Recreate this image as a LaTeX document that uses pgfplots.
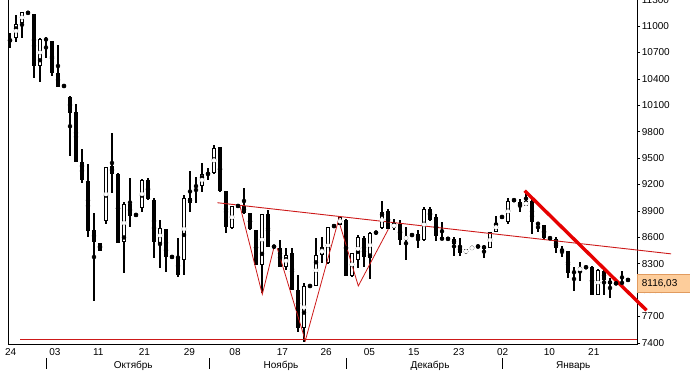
\documentclass[border=0pt]{standalone}
\usepackage{pgfplots}
\pgfplotsset{compat=1.18}
\usepackage{pgfplotstable}
\usepackage{fontspec}
\setmainfont{Liberation Sans}
\definecolor{thinred}{RGB}{205,25,25}
\definecolor{thickred}{RGB}{230,0,0}
\definecolor{peach}{RGB}{253,205,155}
\definecolor{peachedge}{RGB}{225,155,95}

\pgfplotstableread{
i O H L C
0 10842 10921 10751 10835
1 10864 11126 10819 11023
2 11035 11165 10864 11160
3 11150 11150 11150 11150
4 11137 11140 10410 10546
5 10546 10860 10364 10853
6 10850 10876 10637 10845
7 10830 10835 10433 10467
8 10467 10785 10308 10310
9 10319 10319 10319 10319
10 10194 10200 9524 10012
11 10024 10115 9456 9460
12 9456 9603 9217 9251
13 9240 9433 8604 8672
14 8684 8876 7877 8547
15 8532 8536 8444 8448
16 8786 9399 8751 9395
17 9410 9785 9104 9319
18 9319 9325 8530 8539
19 8547 9001 8195 8979
20 8979 9274 8717 8842
21 8854 8854 8854 8854
22 8933 9262 8888 9251
23 9251 9274 9024 9035
24 9024 9047 8365 8547
25 8536 8797 8252 8706
26 8695 8700 8206 8377
27 8377 8377 8377 8377
28 8377 8592 8149 8172
29 8342 9081 8172 9047
30 9047 9353 8888 8990
31 9183 9285 8990 9180
32 9183 9444 9115 9319
33 9319 9388 9251 9325
34 9331 9649 9319 9615
35 9626 9630 9115 9126
36 9126 9130 8649 8717
37 8702 8960 8700 8956
38 8956 8956 8956 8956
39 8956 9156 8870 8880
40 8872 8876 8686 8690
41 8683 8688 8280 8285
42 8285 8861 7963 8861
43 8861 8910 8494 8494
44 8494 8494 8494 8494
45 8475 8569 8266 8266
46 8266 8475 8228 8399
47 8418 8475 8001 8001
48 8001 8172 7528 7566
49 7566 8077 7414 8047
50 8047 8047 8047 8047
51 8051 8588 8045 8399
52 8399 8600 8304 8486
53 8304 8713 8300 8713
54 8728 8728 8728 8728
55 8740 8827 8735 8827
56 8797 8805 8155 8160
57 8160 8425 8150 8425
58 8342 8622 8247 8600
59 8588 8615 8266 8380
60 8369 8664 8122 8653
61 8653 8653 8653 8653
62 8702 9016 8700 8891
63 8903 8918 8690 8690
64 8702 8804 8683 8759
65 8751 8796 8512 8569
66 8577 8721 8342 8607
67 8626 8626 8626 8626
68 8637 8683 8475 8569
69 8564 8946 8560 8926
70 8926 8946 8790 8793
71 8831 8869 8560 8610
72 8604 8774 8564 8564
73 8583 8583 8583 8583
74 8583 8602 8392 8526
75 8507 8596 8388 8420
76 8420 8470 8411 8462
77 8462 8500 8460 8496
78 8496 8496 8496 8496
79 8507 8510 8365 8468
80 8477 8665 8477 8660
81 8660 8839 8655 8766
82 8831 8831 8831 8831
83 8774 9052 8751 9014
84 9022 9022 9022 9022
85 9002 9030 8888 8953
86 8953 9129 8950 9010
87 9014 9041 8640 8774
88 8766 8770 8660 8743
89 8735 8740 8580 8595
90 8590 8590 8590 8590
91 8583 8602 8420 8477
92 8462 8496 8374 8443
93 8439 8445 8138 8190
94 8203 8260 7993 8203
95 8221 8316 8107 8260
96 8260 8260 8260 8260
97 8268 8272 7943 7943
98 7943 8235 7940 8229
99 8221 8225 7950 8115
100 8107 8140 7909 8069
101 8077 8077 8077 8077
102 8069 8221 8069 8096
103 8116 8116 8116 8116
}\candles

\begin{document}
\begin{tikzpicture}[x=1pt,y=1pt]
\begin{axis}[
  at={(8pt,43pt)}, anchor=south west,
  scale only axis, width=629pt, height=345.3pt,
  xmin=-0.333, xmax=104.5, ymin=7388, ymax=11310.6,
  clip=false,
  axis line style={line width=0.8pt, black},
  tick label style={font=\fontsize{10}{12}\selectfont},
  scaled y ticks=false,
  ytick={7400,7700,...,11300},
  ytick pos=right, yticklabel pos=right,
  tick align=outside, major tick length=3pt,
  ytick style={line width=0.6pt, black},
  yticklabel style={anchor=west, inner sep=0pt, xshift=1.7pt},
  xtick={0.1,7.5,14.7,22.4,29.9,37.5,45.4,52.7,59.9,67.3,74.8,82.1,89.9,97.3},
  xticklabels={24,03,11,21,29,08,17,26,05,15,23,02,10,21},
  xtick style={draw=none},
  xticklabel style={anchor=base, inner sep=0pt, yshift=-9pt},
  /pgf/number format/.cd, 1000 sep={}, assume math mode=true
]
% wicks
\addplot[only marks, mark=none, black,
  error bars/.cd, y dir=both, y explicit, error mark=none,
  error bar style={line width=1.1pt, black, line cap=butt}]
  table[x=i, y expr={(\thisrow{H}+\thisrow{L})/2},
        y error expr={(\thisrow{H}-\thisrow{L})/2}] {\candles};
% bodies (black outline / fill)
\addplot[only marks, mark=none, black,
  error bars/.cd, y dir=both, y explicit, error mark=none,
  error bar style={line width=4.8pt, black, line cap=butt}]
  table[x=i, y expr={(\thisrow{O}+\thisrow{C})/2},
        y error expr={max(abs(\thisrow{C}-\thisrow{O})/2,8)}] {\candles};
% white interiors of rising candles (other candles pushed out of domain)
\addplot[only marks, mark=none, white, restrict y to domain=7000:12000,
  error bars/.cd, y dir=both, y explicit, error mark=none,
  error bar style={line width=2.8pt, white, line cap=butt}]
  table[x=i, y expr={(\thisrow{C}-\thisrow{O}>28) ? ((\thisrow{O}+\thisrow{C})/2) : 0},
        y error expr={(\thisrow{C}-\thisrow{O}>28) ? ((\thisrow{C}-\thisrow{O})/2-11.36) : 1}] {\candles};
% support line
\addplot[thinred, line width=0.9pt] coordinates {(1.67,7440) (104.5,7440)};
% neckline
\addplot[thinred, line width=0.9pt] coordinates {(34.55,8993) (110.17,8412)};
% head and shoulders
\addplot[thinred, line width=0.8pt] coordinates {(38.33,8956) (42.05,7953) (44,8487)};
\addplot[thinred, line width=0.8pt] coordinates {(44.55,8475) (49.22,7426) (54.88,8828)};
\addplot[thinred, line width=0.8pt] coordinates {(55,8740) (58.05,8047) (63.05,8691)};
% thick down trend
\addplot[thickred, line width=3.4pt] coordinates {(85.78,9129) (106.08,7771)};
\end{axis}
% month separators and names
\foreach \sx in {46.3,209,346,502.3} {\draw[line width=1pt] (\sx,18) -- (\sx,29);}
\node[font=\fontsize{10}{12}\selectfont] at (133.3,21) {Октябрь};
\node[font=\fontsize{10}{12}\selectfont] at (281,21) {Ноябрь};
\node[font=\fontsize{10}{12}\selectfont] at (430,21) {Декабрь};
\node[font=\fontsize{10}{12}\selectfont] at (573.3,21) {Январь};
% last price box
\filldraw[fill=peach, draw=peachedge, line width=0.5pt] (637.6,94.3) rectangle (691,112.7);
\node[anchor=west, inner sep=0pt, font=\fontsize{10}{12}\selectfont] at (641.7,103.7) {8116,03};
\pgfresetboundingbox
\useasboundingbox (0,0) rectangle (690,387);
\end{tikzpicture}
\end{document}
